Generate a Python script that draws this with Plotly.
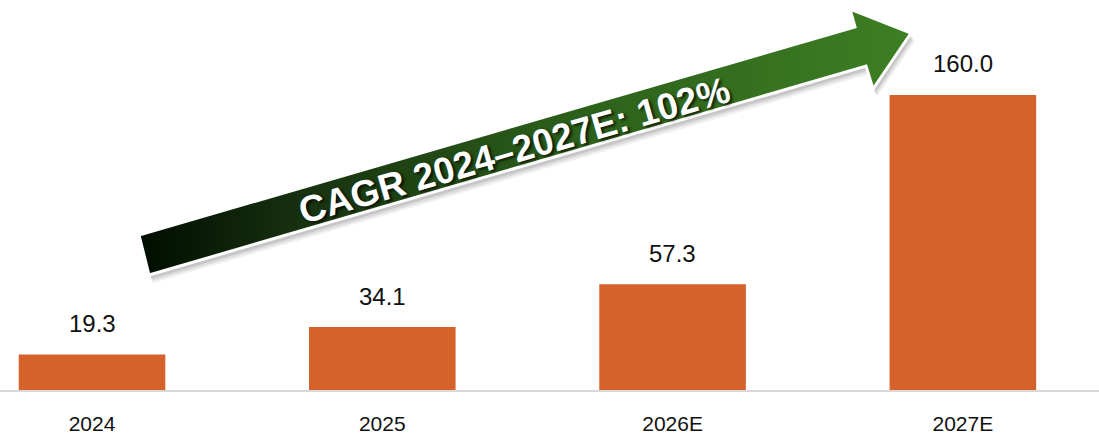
import plotly.graph_objects as go

# ---- data ----
categories = ["2024", "2025", "2026E", "2027E"]
values = [19.3, 34.1, 57.3, 160.0]
value_labels = ["19.3", "34.1", "57.3", "160.0"]
cagr_label = "CAGR 2024–2027E: 102%"

# ---- styling / decoration geometry (pixel space of the plot area) ----
FONT = "Liberation Sans, Arial, Helvetica, sans-serif"
BAR_COLOR = "#d6622b"
ARROW_X = [139, 855, 850, 911, 873, 866, 149, 139]
ARROW_Y = [235, 27, 9, 33, 89, 66, 275, 235]
W, H, MB = 1099, 435, 45
PLOT_H = H - MB

fig = go.Figure()

fig.add_trace(go.Bar(
    x=categories, y=values, width=0.505,
    marker=dict(color=BAR_COLOR, line=dict(width=0)),
    hoverinfo="skip",
))

# arrow shadow (soft, layered)
for dx, dy, a in [(2, 4, 0.10), (3, 6, 0.08), (4, 8, 0.06)]:
    fig.add_trace(go.Scatter(
        x=[v + dx for v in ARROW_X], y=[v + dy for v in ARROW_Y],
        xaxis="x2", yaxis="y2", mode="lines", fill="toself",
        fillcolor=f"rgba(0,0,0,{a})", line=dict(width=0),
        hoverinfo="skip",
    ))

# arrow body with gradient
fig.add_trace(go.Scatter(
    x=ARROW_X, y=ARROW_Y, xaxis="x2", yaxis="y2",
    mode="lines", fill="toself",
    fillgradient=dict(type="horizontal", colorscale=[
        [0.0, "#000d00"], [0.2, "#16300f"], [0.55, "#2c5f1a"], [1.0, "#3d7f24"]]),
    line=dict(color="white", width=3),
    hoverinfo="skip",
))

annotations = []
for i, (v, t) in enumerate(zip(values, value_labels)):
    annotations.append(dict(
        x=i, y=v, xref="x", yref="y", text=t, showarrow=False,
        yanchor="middle", yshift=31,
        font=dict(family=FONT, size=24, color="#111111"),
    ))
annotations.append(dict(
    x=514, y=150, xref="x2", yref="y2", text=f"<b>{cagr_label}</b>",
    showarrow=False, textangle=-16, xanchor="center", yanchor="middle",
    font=dict(family=FONT, size=37, color="white",
              shadow="2px 2px 3px rgba(0,0,0,0.75)"),
))

fig.update_layout(
    width=W, height=H,
    margin=dict(l=0, r=0, t=0, b=MB, autoexpand=False),
    paper_bgcolor="white", plot_bgcolor="white",
    showlegend=False,
    annotations=annotations,
    xaxis=dict(
        type="category", range=[-0.317, 3.469], automargin=False,
        showgrid=False, zeroline=False,
        showline=True, linecolor="#d9d9d9", linewidth=2,
        ticks="", ticklabelstandoff=14,
        tickfont=dict(family=FONT, size=21, color="#111111"),
        fixedrange=True,
    ),
    yaxis=dict(range=[0, 211.5], visible=False, automargin=False, fixedrange=True),
    xaxis2=dict(overlaying="x", anchor="y2", range=[0, W], visible=False,
                automargin=False, fixedrange=True),
    yaxis2=dict(overlaying="y", anchor="x2", range=[PLOT_H, 0], visible=False,
                automargin=False, fixedrange=True),
)

fig.write_html(
    "out.html",
    config={"displayModeBar": False},
    post_script="document.body.style.margin='0';document.body.style.overflow='hidden';",
)
